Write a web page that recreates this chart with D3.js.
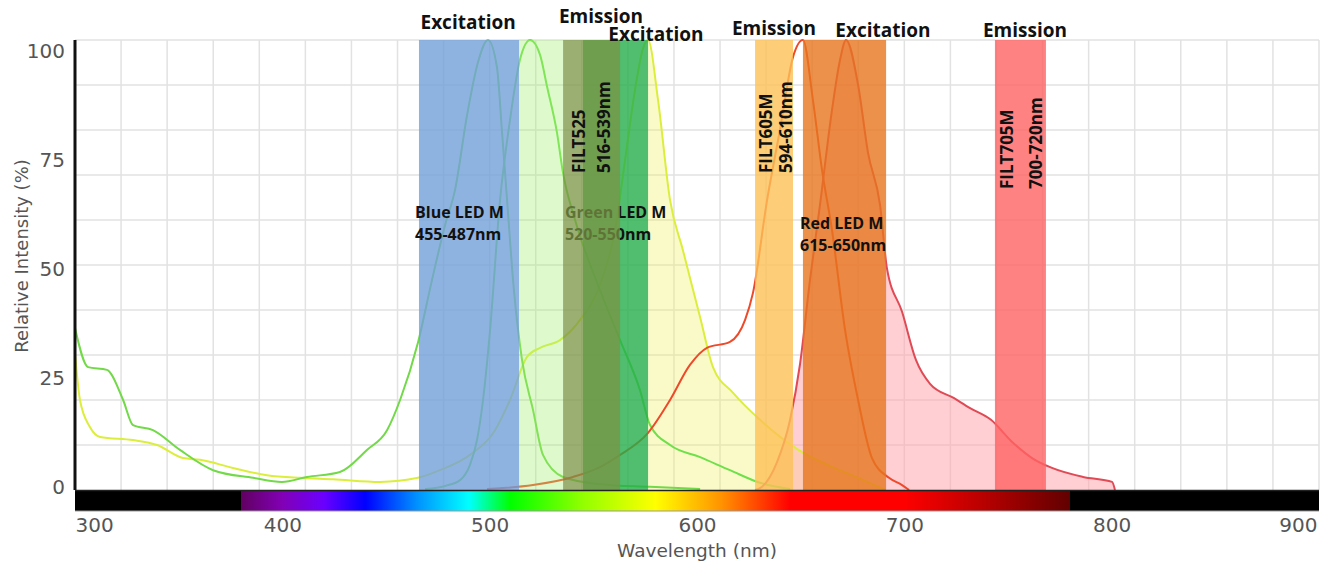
<!DOCTYPE html>
<html>
<head>
<meta charset="utf-8">
<script src="https://cdn.jsdelivr.net/npm/d3@7"></script>
<style>
  body { margin: 0; background: #fff; }
</style>
</head>
<body>
<div id="chart"></div>
<script>
const width = 1335;
const height = 566;

// axis ticks
const wavelengthTicks = [300, 400, 500, 600, 700, 800, 900];
const intensityTicks = [0, 25, 50, 75, 100];
const gridColumns = 27;

// spectra: [wavelength nm, relative intensity %]
const greenExcitation = [
  [300, 36], [306.3, 27.3], [315.4, 26.7], [323.2, 20], [328, 14.4], [337.6, 13.3],
  [350.6, 8.9], [366.6, 4.4], [385.9, 2.7], [399.8, 1.8], [411.9, 2.9], [427.8, 4],
  [440.8, 8.9], [450.5, 13.3], [456.8, 20], [465.4, 32.7], [472.2, 46.7], [478.5, 58.9],
  [483.3, 66.7], [489.1, 83.3], [494.4, 95.1], [499.2, 100], [503.5, 94], [506, 79.3],
  [508.4, 64.4], [511.7, 44.4], [515.6, 28.9], [520.9, 17.8], [525.7, 7.8], [535.4, 2.9],
  [553.2, 1.3], [577.3, 0.7], [601.5, 0.2]
];
const greenEmission = [
  [468.8, 0.2], [478.5, 0.9], [485.7, 2.2], [490.5, 5.6], [493.9, 11.1], [496.8, 20],
  [500.2, 35.6], [505, 64.4], [509.8, 82.2], [514.6, 95.6], [519.5, 100], [524.3, 96.7],
  [527.7, 89.6], [532.5, 79.3], [535.4, 70.4], [541.2, 60], [553.2, 44.4], [562.9, 33.3],
  [572.5, 22.2], [577.3, 14.5], [587, 10], [601.5, 7.3], [615.9, 4.4], [630.4, 1.6], [644.9, 0.2]
];
const yellowSpectrum = [
  [300, 30.4], [302.4, 20], [307.2, 14], [312.1, 11.8], [328, 11.1], [339.6, 10],
  [352.1, 7.1], [360.3, 6.7], [376.2, 4.9], [392.6, 3.3], [408.5, 2.7], [424.4, 2.4],
  [447.1, 1.8], [465.4, 2.7], [476, 4.4], [490.5, 7.8], [502.6, 13.3], [509.8, 20],
  [518, 29.6], [524.3, 31.6], [533.9, 33.3], [543.6, 37.8], [553.2, 45.6], [560.5, 57.8],
  [565.3, 73.3], [570.1, 88.9], [574, 98.2], [576.4, 100], [581.2, 86.7], [587, 64.4],
  [593.2, 53.3], [601.5, 38.4], [607.7, 27.3], [617.4, 21.6], [630.4, 15.6], [649.7, 8.7],
  [664.2, 5.3], [677.7, 2.7], [690.7, 0]
];
const redExcitation = [
  [498.7, 0.2], [520.9, 1.1], [540.2, 2.9], [553.2, 5.1], [562.9, 7.8], [576.4, 12.7],
  [587, 20], [596.6, 27.8], [604.8, 31.6], [615.9, 32.9], [623.2, 37.8], [627, 43.8],
  [633.8, 64.4], [640, 80], [646.3, 96.2], [651.1, 100], [655.9, 86.7], [660.3, 71.1],
  [665.1, 57.8], [671.4, 35.6], [677.7, 20], [684.4, 7.1], [692.6, 2.7], [698.9, 1.1], [702.3, 0]
];
const redEmission = [
  [628, 0], [630.4, 0.4], [638.6, 6.2], [644.9, 15.6], [649.7, 28], [654.5, 46.7],
  [659.3, 63.3], [665.1, 84.4], [669, 95.6], [671.9, 100], [677.7, 90], [682.5, 74.9],
  [688.3, 63.3], [691.6, 49.3], [698.9, 39.6], [705.6, 28.9], [712.4, 23.6], [724, 20.4],
  [731.7, 18.2], [741.8, 15.6], [751.5, 10.9], [761.6, 7.1], [771.2, 4.9], [786.2, 2.9],
  [800.2, 1.8], [801.6, 0]
];

// LED / filter bands (nm)
const bandNames = ["Blue LED M", "pale", "Green LED M", "FILT525", "FILT605M", "Red LED M", "FILT705M"];
const bandFrom = [465.9, 514.2, 545.0, 535.4, 628.0, 651.1, 743.7];
const bandTo = [514.2, 535.4, 576.4, 562.9, 646.3, 691.2, 768.3];

// headers above the bands
const headerText = ["Excitation", "Emission", "Excitation", "Emission", "Excitation", "Emission"];
const headerNm = [489.6, 553.7, 580.2, 637.1, 689.7, 758.2];

const svg = d3
  .select("#chart")
  .append("svg")
  .attr("width", width)
  .attr("height", height)
  .style("font-family", "'Open Sans', sans-serif");

const x = d3.scaleLinear().domain([300, 900]).range([75, 1319]);
const y = d3.scaleLinear().domain([0, 100]).range([490, 40]);
// tick labels of the original sit on a slightly tighter scale
const yLabel = d3.scaleLinear().domain([0, 100]).range([487, 51.5]);

const bandColor = {
  "Blue LED M": ["#73a0d8", 0.8],
  "pale": ["#a1f170", 0.35],
  "Green LED M": ["#24ae4a", 0.8],
  "FILT525": ["#7a9444", 0.75],
  "FILT605M": ["#fcc056", 0.8],
  "Red LED M": ["#e6761e", 0.8],
  "FILT705M": ["#ff6363", 0.8]
};

// grid
const gridG = svg.append("g").attr("stroke", "#e2e2e2").attr("stroke-width", 1.5);
gridG.selectAll("line.v")
  .data(d3.range(1, gridColumns + 1).map(i => 300 + i * 600 / gridColumns))
  .enter()
  .append("line")
  .attr("x1", d => x(d)).attr("x2", d => x(d))
  .attr("y1", y(100)).attr("y2", y(0));
gridG.selectAll("line.h")
  .data(d3.range(10, 101, 10))
  .enter()
  .append("line")
  .attr("x1", x(300)).attr("x2", x(900))
  .attr("y1", d => y(d)).attr("y2", d => y(d));

const line = d3.line().x(d => x(d[0])).y(d => y(d[1])).curve(d3.curveMonotoneX);
const area = d3.area().x(d => x(d[0])).y0(y(0)).y1(d => y(d[1])).curve(d3.curveMonotoneX);

// fills
svg.append("path")
  .datum(yellowSpectrum.filter(d => d[0] >= 576.4))
  .attr("d", area)
  .attr("fill", "rgba(240,240,100,0.35)");
svg.append("path")
  .datum(redEmission)
  .attr("d", area)
  .attr("fill", "rgba(255,160,170,0.5)");

// spectra lines
const spectra = [
  [yellowSpectrum, "#dcee3c"],
  [greenExcitation, "#72d948"],
  [greenEmission, "#6fe04a"],
  [redExcitation, "#ee4a2a"],
  [redEmission, "#e04a55"]
];
svg.selectAll("path.spec")
  .data(spectra)
  .enter()
  .append("path")
  .attr("class", "spec")
  .attr("d", d => line(d[0]))
  .attr("fill", "none")
  .attr("stroke", d => d[1])
  .attr("stroke-width", 2);

function drawBand(name) {
  const i = bandNames.indexOf(name);
  svg.append("rect")
    .attr("x", x(bandFrom[i]))
    .attr("width", x(bandTo[i]) - x(bandFrom[i]))
    .attr("y", y(100))
    .attr("height", y(0) - y(100))
    .attr("fill", bandColor[name][0])
    .attr("fill-opacity", bandColor[name][1]);
}

function twoLines(lines, nm, y0, size) {
  const t = svg.append("text")
    .attr("x", x(nm))
    .attr("y", y0)
    .attr("font-size", size)
    .attr("font-weight", "bold")
    .attr("fill", "#111");
  lines.forEach((s, k) => {
    t.append("tspan").attr("x", x(nm)).attr("dy", k ? 22 : 0).text(s);
  });
}

function rotated(s, nm, yBottom) {
  svg.append("text")
    .attr("transform", "translate(" + x(nm) + "," + yBottom + ") rotate(-90)")
    .attr("font-size", 17)
    .attr("font-weight", "bold")
    .attr("fill", "#111")
    .text(s);
}

drawBand("Blue LED M");
drawBand("pale");
drawBand("Green LED M");
// green LED text sits under the FILT525 band
twoLines(["Green LED M", "520-550nm"], 536.3, 218, 16);
drawBand("FILT525");
drawBand("FILT605M");
drawBand("Red LED M");
drawBand("FILT705M");

twoLines(["Blue LED M", "455-487nm"], 464.0, 218, 16);
twoLines(["Red LED M", "615-650nm"], 649.7, 229, 16);

rotated("FILT525", 546.0, 173);
rotated("516-539nm", 558.0, 173);
rotated("FILT605M", 636.2, 173);
rotated("594-610nm", 645.8, 173);
rotated("FILT705M", 752.4, 189);
rotated("700-720nm", 766.4, 189);

const headerBase = [29, 23, 41, 35, 37, 37];
svg.selectAll("text.head")
  .data(headerText)
  .enter()
  .append("text")
  .attr("class", "head")
  .attr("x", (d, i) => x(headerNm[i]))
  .attr("y", (d, i) => headerBase[i])
  .attr("text-anchor", "middle")
  .attr("font-size", 19)
  .attr("font-weight", "bold")
  .attr("fill", "#111")
  .text(d => d);

// visible spectrum bar
const stops = [
  [300, "#000"], [380, "#000"], [380, "#610061"], [400, "#8200b5"], [420, "#6a00ff"],
  [440, "#0000ff"], [465, "#0092ff"], [490, "#00ffff"], [510, "#00ff00"], [545, "#92ff00"],
  [580, "#ffff00"], [612, "#ff9200"], [645, "#ff0000"], [700, "#ff0000"], [740, "#b50000"],
  [780, "#610000"], [780, "#000"], [900, "#000"]
];
const grad = svg.append("defs").append("linearGradient")
  .attr("id", "spectrum")
  .attr("gradientUnits", "userSpaceOnUse")
  .attr("x1", x(300)).attr("x2", x(900))
  .attr("y1", 0).attr("y2", 0);
grad.selectAll("stop")
  .data(stops)
  .enter()
  .append("stop")
  .attr("offset", d => (d[0] - 300) / 600)
  .attr("stop-color", d => d[1]);

svg.append("rect")
  .attr("x", x(300))
  .attr("y", y(0))
  .attr("width", x(900) - x(300))
  .attr("height", 21)
  .attr("fill", "url(#spectrum)");
svg.append("line")
  .attr("x1", x(300)).attr("x2", x(900))
  .attr("y1", y(0) + 21).attr("y2", y(0) + 21)
  .attr("stroke", "#999").attr("stroke-width", 1);
svg.append("line")
  .attr("x1", x(300)).attr("x2", x(900))
  .attr("y1", y(0) + 0.5).attr("y2", y(0) + 0.5)
  .attr("stroke", "#222").attr("stroke-width", 1.5);

// left axis line
svg.append("line")
  .attr("x1", x(300)).attr("x2", x(300))
  .attr("y1", y(100)).attr("y2", y(0))
  .attr("stroke", "#111").attr("stroke-width", 3);

// tick labels
const xAxis = d3.axisBottom(x).tickValues(wavelengthTicks).tickSize(0).tickPadding(7)
  .tickFormat(d3.format("d"));
const xg = svg.append("g")
  .attr("transform", "translate(0," + (y(0) + 21) + ")")
  .call(xAxis);
xg.select(".domain").remove();
xg.selectAll("text")
  .attr("font-family", "'DejaVu Sans', sans-serif")
  .attr("font-size", 20)
  .attr("fill", "#555")
  .attr("text-anchor", d => d === 300 ? "start" : d === 900 ? "end" : "middle")
  .attr("dx", d => d === 900 ? -2 : 0);

const yAxis = d3.axisLeft(yLabel).tickValues(intensityTicks).tickSize(0).tickPadding(10);
const yg = svg.append("g")
  .attr("transform", "translate(" + x(300) + ",0)")
  .call(yAxis);
yg.select(".domain").remove();
yg.selectAll("text")
  .attr("font-family", "'DejaVu Sans', sans-serif")
  .attr("font-size", 20)
  .attr("fill", "#555");

svg.append("text")
  .attr("x", x(600))
  .attr("y", 557)
  .attr("text-anchor", "middle")
  .attr("font-family", "'DejaVu Sans', sans-serif")
  .attr("font-size", 18.5)
  .attr("fill", "#555")
  .text("Wavelength (nm)");

svg.append("text")
  .attr("transform", "translate(28,256) rotate(-90)")
  .attr("text-anchor", "middle")
  .attr("font-family", "'DejaVu Sans', sans-serif")
  .attr("font-size", 18)
  .attr("fill", "#555")
  .text("Relative Intensity (%)");
</script>
</body>
</html>
